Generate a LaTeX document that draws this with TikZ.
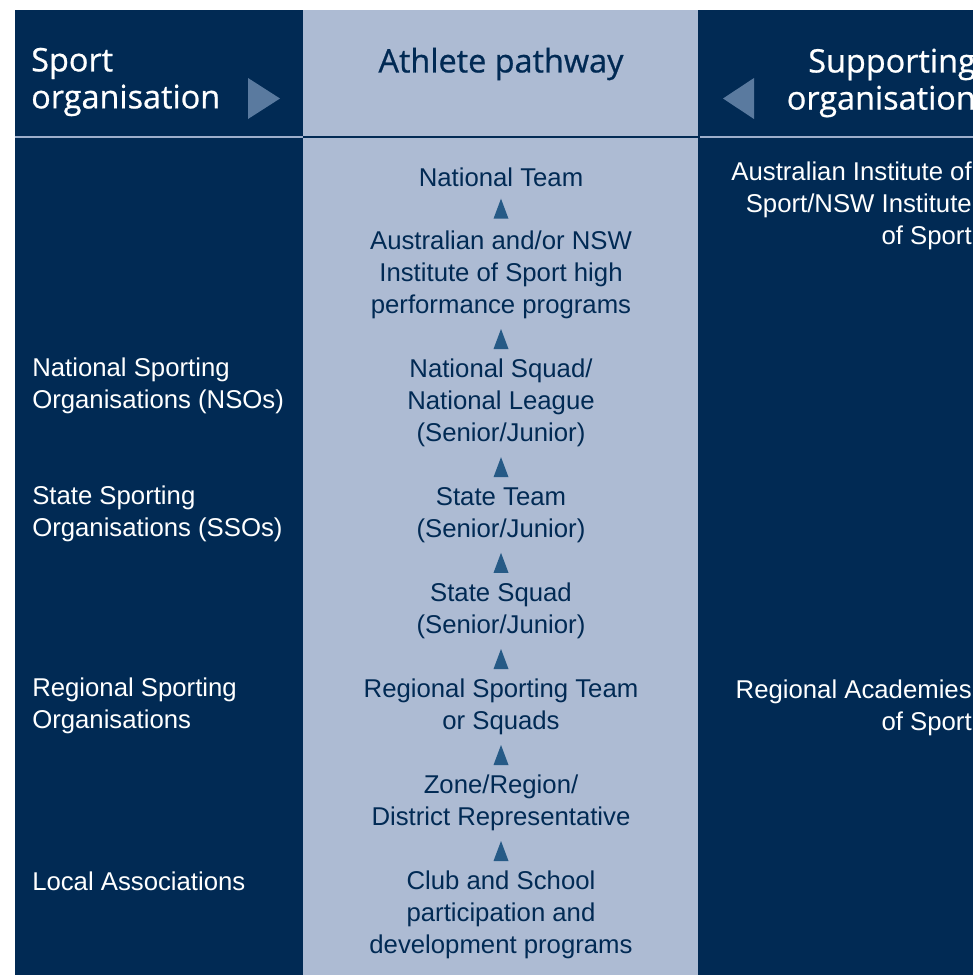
\documentclass[tikz,border=0pt]{standalone}
\usepackage{fontspec}
\setmainfont{Liberation Sans}
\newfontfamily\headfont[FakeBold=0.7]{Open Sans}
\usetikzlibrary{positioning}
\usetikzlibrary{calc}
\definecolor{navy}{HTML}{012A54}
\definecolor{paleblue}{HTML}{ADBBD3}
\definecolor{ruleblue}{HTML}{9DAECB}
\definecolor{tipblue}{HTML}{265A86}
\definecolor{headtri}{HTML}{5A7A9F}
\tikzset{
  bodyfont/.style={font=\fontsize{19.3}{24}\selectfont},
  pathtext/.style={bodyfont, align=center, text=navy, inner sep=0pt},
  lefttext/.style={bodyfont, align=left, anchor=west, text=white, inner sep=0pt},
  righttext/.style={bodyfont, align=right, anchor=east, text=white, inner sep=0pt},
  headtext/.style={font=\headfont\fontsize{24.3}{27.8}\selectfont, inner sep=0pt},
  steptip/.style={fill=tipblue},
}
\begin{document}
\begin{tikzpicture}[x=0.75pt,y=-0.75pt]
				\useasboundingbox (0,0) rectangle (973,975);
				\clip (0,0) rectangle (973,975);
				
				% draw columns
				\fill[navy] (15,10) rectangle (303,975);
				\fill[paleblue] (303,10) rectangle (698,975);
				\fill[navy] (698,10) rectangle (973,975);
				
				% draw header rules
				\draw[ruleblue, line width=2.2pt] (15,137) -- (303,137);
				\draw[navy, line width=1.6pt] (303,137) -- (699,137);
				\draw[ruleblue, line width=2.2pt] (700,137) -- (973,137);
				
				% draw headers
				\node[headtext, align=left, anchor=west, text=white] (sporthead) at (31,82) {Sport\\organisation};
				\node[headtext, text=navy] (pathhead) at (501,64) {Athlete pathway};
				\node[headtext, align=right, anchor=east, text=white] (supphead) at (976,83) {Supporting\\organisation};
				\fill[headtri] (248,78) -- (280,98.5) -- (248,119) -- cycle;
				\fill[headtri] (754,78) -- (723,98.5) -- (754,119) -- cycle;
				
				% draw athlete pathway
				\node[pathtext] (natteam) at (501,177) {National Team};
				\node[pathtext] (ais) at (501,275) {Australian and/or NSW\\Institute of Sport high\\performance programs};
				\node[pathtext] (natsquad) at (501,403) {National Squad/\\National League\\(Senior/Junior)};
				\node[pathtext] (stateteam) at (501,515) {State Team\\(Senior/Junior)};
				\node[pathtext] (statesquad) at (501,611) {State Squad\\(Senior/Junior)};
				\node[pathtext] (regteam) at (501,707) {Regional Sporting Team\\or Squads};
				\node[pathtext] (zone) at (501,803) {Zone/Region/\\District Representative};
				\node[pathtext] (club) at (501,915) {Club and School\\participation and\\development programs};
				
				% draw arrows
				\foreach \lo/\hi in {ais/natteam, natsquad/ais, stateteam/natsquad, statesquad/stateteam, regteam/statesquad, zone/regteam, club/zone}
					\fill[steptip] ($(\lo.north)!0.5!(\hi.south)$) ++(-7.5,10) -- ++(15,0) -- ++(-7.5,-20) -- cycle;
				
				% draw sport organisations
				\node[lefttext] (nso) at (32,386) {National Sporting\\Organisations (NSOs)};
				\node[lefttext] (sso) at (32,514) {State Sporting\\Organisations (SSOs)};
				\node[lefttext] (rso) at (32,706) {Regional Sporting\\Organisations};
				\node[lefttext] (local) at (32,881) {Local Associations};
				
				% draw supporting organisations
				\node[righttext] (aisorg) at (972,206) {Australian Institute of\\Sport/NSW Institute\\of Sport};
				\node[righttext] (ras) at (972,708) {Regional Academies\\of Sport};
			\end{tikzpicture}
\end{document}
